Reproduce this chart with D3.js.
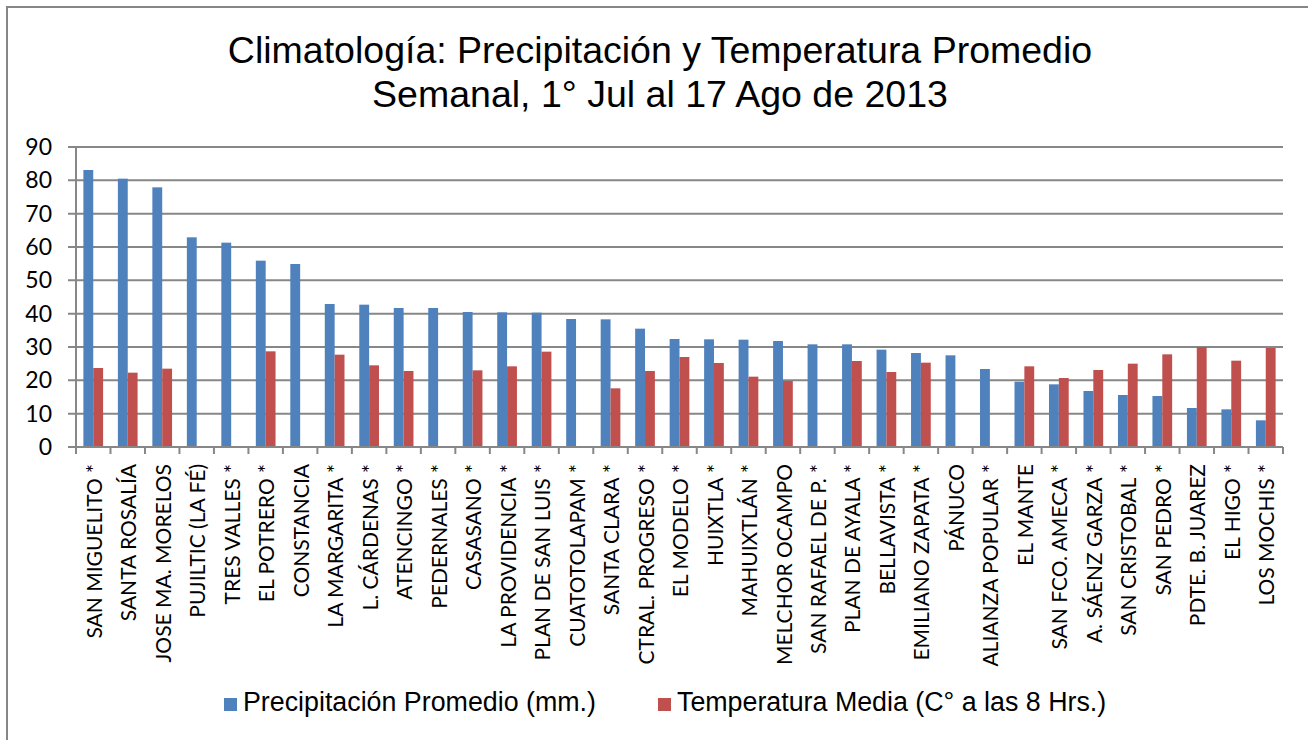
<!DOCTYPE html>
<html>
<head>
<meta charset="utf-8">
<script src="https://cdn.jsdelivr.net/npm/d3@7"></script>
<style>
  body { margin: 0; background: #fff; }
</style>
</head>
<body>
<div id="wrapper"></div>
<script>
const stations = [
  "SAN MIGUELITO *", "SANTA ROSALÍA", "JOSE MA. MORELOS", "PUJILTIC (LA FÉ)", "TRES VALLES *",
  "EL POTRERO *", "CONSTANCIA", "LA MARGARITA *", "L. CÁRDENAS *", "ATENCINGO *",
  "PEDERNALES *", "CASASANO *", "LA PROVIDENCIA *", "PLAN DE SAN LUIS *", "CUATOTOLAPAM *",
  "SANTA CLARA *", "CTRAL. PROGRESO *", "EL MODELO *", "HUIXTLA *", "MAHUIXTLÁN *",
  "MELCHOR OCAMPO", "SAN RAFAEL DE P. *", "PLAN DE AYALA *", "BELLAVISTA *", "EMILIANO ZAPATA *",
  "PÁNUCO", "ALIANZA POPULAR *", "EL MANTE", "SAN FCO. AMECA *", "A. SÁENZ GARZA *",
  "SAN CRISTOBAL *", "SAN PEDRO *", "PDTE. B. JUAREZ", "EL HIGO *", "LOS MOCHIS *"
];
const precipitacion = [
  83.1, 80.5, 77.9, 62.9, 61.3, 55.9, 54.9, 42.9, 42.7, 41.7,
  41.7, 40.5, 40.4, 40.3, 38.4, 38.3, 35.5, 32.4, 32.3, 32.2,
  31.8, 30.8, 30.8, 29.2, 28.2, 27.5, 23.4, 19.6, 18.8, 16.8,
  15.6, 15.3, 11.7, 11.3, 8.0
];
const temperatura = [
  23.7, 22.3, 23.5, null, null, 28.7, null, 27.7, 24.5, 22.8,
  null, 23.0, 24.2, 28.6, null, 17.6, 22.8, 27.0, 25.2, 21.1,
  19.8, null, 25.8, 22.5, 25.3, null, null, 24.2, 20.7, 23.1,
  25.0, 27.8, 30.0, 25.9, 29.7
];
const yTicks = [0, 10, 20, 30, 40, 50, 60, 70, 80, 90];
const seriesNames = ["Precipitación Promedio (mm.)", "Temperatura Media (C° a las 8 Hrs.)"];
const seriesColors = ["#4F81BD", "#C0504D"];
const titleLines = ["Climatología: Precipitación y Temperatura Promedio", "Semanal, 1° Jul al 17 Ago de 2013"];

const gridColor = "#878787";
const labelFont = "Lato, 'Open Sans', sans-serif";
const titleFont = "'Liberation Sans', Arial, sans-serif";

let dimensions = {
  width: 1308,
  height: 740,
  margin: { top: 147, right: 25, bottom: 293, left: 76 },
}
dimensions.boundedWidth = dimensions.width - dimensions.margin.left - dimensions.margin.right
dimensions.boundedHeight = dimensions.height - dimensions.margin.top - dimensions.margin.bottom

const wrapper = d3.select("#wrapper")
  .append("svg")
  .attr("width", dimensions.width)
  .attr("height", dimensions.height);

// outer chart border (right/bottom edges fall outside the picture)
wrapper.append("rect")
  .attr("x", 7).attr("y", 7)
  .attr("width", dimensions.width + 20).attr("height", dimensions.height + 20)
  .attr("fill", "white")
  .attr("stroke", "#868686")
  .attr("stroke-width", 2);

// title
wrapper.append("g").selectAll("text")
  .data(titleLines)
  .join("text")
  .attr("x", 660)
  .attr("y", (d, i) => 63 + i * 44)
  .attr("text-anchor", "middle")
  .attr("font-family", titleFont)
  .attr("font-size", "37.5px")
  .attr("fill", "#000")
  .text(d => d);

const bounds = wrapper.append("g")
  .attr("transform", `translate(${dimensions.margin.left},${dimensions.margin.top})`);

const xScaler = d3.scaleBand()
  .domain(stations)
  .range([0, dimensions.boundedWidth])
  .paddingInner(0)
  .paddingOuter(0);

const xSub = d3.scaleBand()
  .domain([0, 1])
  .range([0, xScaler.bandwidth()])
  .paddingInner(0)
  .paddingOuter(0.75);

const yScaler = d3.scaleLinear()
  .domain([0, 90])
  .range([dimensions.boundedHeight, 0]);

// gridlines
bounds.append("g").selectAll("line")
  .data(yTicks)
  .join("line")
  .attr("x1", -8)
  .attr("x2", dimensions.boundedWidth)
  .attr("y1", d => yScaler(d))
  .attr("y2", d => yScaler(d))
  .attr("stroke", gridColor)
  .attr("stroke-width", 2);

// y axis
const yAxisGen = d3.axisLeft(yScaler)
  .tickValues(yTicks)
  .tickSize(0)
  .tickPadding(24);
const yAxis = bounds.append("g").call(yAxisGen);
yAxis.select(".domain").remove();
yAxis.selectAll("text")
  .attr("font-family", labelFont)
  .attr("font-size", "23px")
  .attr("fill", "#000");

// bars
const rows = stations.map((s, i) => ({ name: s, values: [precipitacion[i], temperatura[i]] }));
const groups = bounds.append("g").selectAll("g")
  .data(rows)
  .join("g")
  .attr("transform", d => `translate(${xScaler(d.name)},0)`);

groups.selectAll("rect")
  .data(d => d.values.map((v, k) => ({ k, v })).filter(e => e.v != null))
  .join("rect")
  .attr("x", e => xSub(e.k))
  .attr("width", xSub.bandwidth())
  .attr("y", e => yScaler(e.v))
  .attr("height", e => yScaler(0) - yScaler(e.v))
  .attr("fill", e => seriesColors[e.k]);

// x axis line and ticks at category boundaries
const boundaries = stations.map(s => xScaler(s)).concat([dimensions.boundedWidth]);
bounds.append("line")
  .attr("x1", 0).attr("x2", dimensions.boundedWidth)
  .attr("y1", yScaler(0)).attr("y2", yScaler(0))
  .attr("stroke", gridColor).attr("stroke-width", 2);
bounds.append("g").selectAll("line")
  .data(boundaries)
  .join("line")
  .attr("x1", d => d).attr("x2", d => d)
  .attr("y1", yScaler(0)).attr("y2", yScaler(0) + 7)
  .attr("stroke", gridColor).attr("stroke-width", 2);
bounds.append("line")
  .attr("x1", 0).attr("x2", 0)
  .attr("y1", yScaler(90)).attr("y2", yScaler(0) + 7)
  .attr("stroke", gridColor).attr("stroke-width", 2);

// category labels, rotated
bounds.append("g").selectAll("text")
  .data(stations)
  .join("text")
  .attr("transform", d => `translate(${xScaler(d) + xScaler.bandwidth() / 2 + 1},${yScaler(0) + 17}) rotate(-90)`)
  .attr("dy", "0.36em")
  .attr("text-anchor", "end")
  .attr("font-family", labelFont)
  .attr("font-size", "21px")
  .attr("fill", "#000")
  .text(d => d);

// legend
const legendX = [224, 658];
const legend = wrapper.append("g").selectAll("g")
  .data(seriesNames)
  .join("g")
  .attr("transform", (d, i) => `translate(${legendX[i]},698)`);
legend.append("rect")
  .attr("width", 13).attr("height", 13)
  .attr("fill", (d, i) => seriesColors[i]);
legend.append("text")
  .attr("x", 19)
  .attr("y", 13)
  .attr("font-family", titleFont)
  .attr("font-size", "26.8px")
  .attr("fill", "#000")
  .text(d => d);
</script>
</body>
</html>
